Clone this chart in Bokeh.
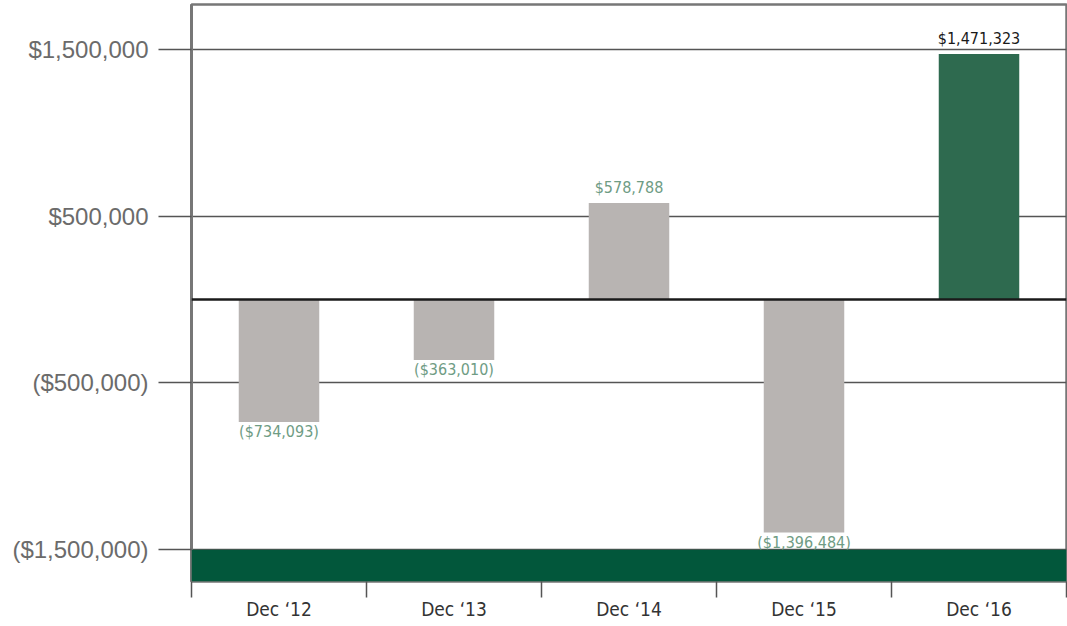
from bokeh.plotting import figure
from bokeh.models import (ColumnDataSource, Range1d, FixedTicker, Span, BoxAnnotation)
from bokeh.core.properties import value
from bokeh.embed import file_html
from bokeh.resources import INLINE

# ---- data ----
categories = ["Dec \u201812", "Dec \u201813", "Dec \u201814", "Dec \u201815", "Dec \u201816"]
net_income = [-734093, -363010, 578788, -1396484, 1471323]
bar_labels = ["($734,093)", "($363,010)", "$578,788", "($1,396,484)", "$1,471,323"]
y_ticks = [-1500000, -500000, 500000, 1500000]
y_tick_labels = ["($1,500,000)", "($500,000)", "$500,000", "$1,500,000"]

# ---- styles ----
bar_colors = ["#b8b4b2", "#b8b4b2", "#b8b4b2", "#b8b4b2", "#2e6a4f"]
label_colors = ["#6f9c84", "#6f9c84", "#6f9c84", "#6f9c84", "#1a1a1a"]
COND = "'DejaVu Sans Condensed', 'Liberation Sans Narrow', 'Roboto Condensed', Roboto, sans-serif"

n = len(categories)
centers = [i + 0.5 for i in range(n)]

src = ColumnDataSource(dict(
    x=centers,
    val=net_income,
    lab=bar_labels,
    bar_color=bar_colors,
    lab_color=label_colors,
    base=["bottom" if v >= 0 else "top" for v in net_income],
    yoff=[-6 if v >= 0 else 0 for v in net_income],
))

p = figure(width=1067, height=622, x_range=Range1d(0, n),
           y_range=Range1d(-1.69e6, 1.768e6), output_backend="svg", toolbar_location=None,
           x_axis_location="below", y_axis_location="left",
           min_border_left=191, min_border_right=1, min_border_top=4)
p.background_fill_color = "white"
p.border_fill_color = "white"
p.outline_line_color = "#777777"
p.outline_line_width = 2.5

# bars
p.vbar(x="x", top="val", bottom=0, width=0.46, source=src,
       fill_color="bar_color", line_color=None)

# bar labels
p.text(x="x", y="val", text="lab", source=src, text_color="lab_color",
       text_align="center", text_baseline="base", y_offset="yoff",
       text_font=value(COND), text_font_size="16px")

# zero line
p.add_layout(Span(location=0, dimension="width", line_color="#1a1a1a", line_width=2.5))

# green band at bottom
p.add_layout(BoxAnnotation(top=y_ticks[0], fill_color="#02573b", fill_alpha=1.0,
                           line_color=None))

# y axis
yt = FixedTicker(ticks=y_ticks)
ax = p.yaxis[0]
ax.ticker = yt
ax.major_label_overrides = {t: l for t, l in zip(y_ticks, y_tick_labels)}
ax.major_label_text_font = "Liberation Sans"
ax.major_label_text_font_size = "24px"
ax.major_label_text_color = "#6b6b6b"
ax.major_label_standoff = 10
ax.major_tick_out = 33
ax.major_tick_in = 0
ax.major_tick_line_color = "#555555"
ax.major_tick_line_width = 1.5
ax.minor_tick_line_color = None
ax.axis_line_color = "#777777"
ax.axis_line_width = 3
p.ygrid.ticker = yt
p.ygrid.grid_line_color = "#555555"
p.ygrid.grid_line_width = 1.5
p.xgrid.grid_line_color = None

# x axis: category labels at centres, tick marks at category boundaries (minor ticks)
xa = p.xaxis[0]
xa.ticker = FixedTicker(ticks=centers, minor_ticks=list(range(n + 1)))
xa.major_label_overrides = {c: lab for c, lab in zip(centers, categories)}
xa.major_tick_line_color = None
xa.major_tick_out = 0
xa.major_tick_in = 0
xa.minor_tick_out = 16
xa.minor_tick_in = 0
xa.minor_tick_line_color = "#555555"
xa.minor_tick_line_width = 1.5
xa.axis_line_color = None
xa.major_label_text_font = COND
xa.major_label_text_font_size = "19px"
xa.major_label_text_color = "#333333"
xa.major_label_standoff = 0

open("out.html", "w").write(file_html(p, INLINE))
